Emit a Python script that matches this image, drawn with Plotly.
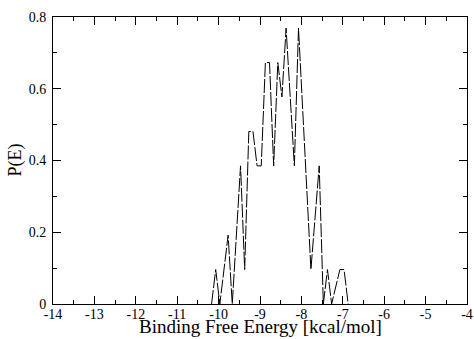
import plotly.graph_objects as go

energy = [-10.17, -10.07, -9.97, -9.77, -9.67, -9.47, -9.37, -9.27, -9.17, -9.07,
          -8.97, -8.87, -8.77, -8.67, -8.57, -8.47, -8.37, -8.17, -8.07, -7.77,
          -7.57, -7.47, -7.37, -7.27, -7.07, -6.97, -6.87]
prob = [0.0, 0.096, 0.0, 0.192, 0.0, 0.385, 0.096, 0.481, 0.481, 0.385,
        0.385, 0.673, 0.673, 0.385, 0.673, 0.577, 0.769, 0.385, 0.769, 0.096,
        0.385, 0.0, 0.096, 0.0, 0.096, 0.096, 0.0]

xticks = [-14, -13, -12, -11, -10, -9, -8, -7, -6, -5, -4]
yticks = [0, 0.2, 0.4, 0.6, 0.8]

fig = go.Figure()
fig.add_trace(go.Scatter(x=energy, y=prob, mode="lines",
                         line=dict(color="black", width=1, dash="14px,2px"),
                         showlegend=False))

fig.update_layout(
    width=474, height=339,
    margin=dict(l=53, r=7, t=17, b=35),
    paper_bgcolor="white", plot_bgcolor="white",
    font=dict(family="Liberation Serif", size=14, color="black"),
    xaxis=dict(range=[-14, -4], tickvals=xticks, ticktext=[str(v) for v in xticks],
               ticks="inside", ticklen=8, tickcolor="black", tickwidth=1,
               showline=True, linecolor="black", linewidth=1, mirror="allticks",
               showgrid=False, zeroline=False, automargin=False,
               ticklabelstandoff=-3,
               minor=dict(ticks="inside", ticklen=4, dtick=0.5, tickcolor="black", showgrid=False),
               tickfont=dict(size=14)),
    yaxis=dict(range=[0, 0.8], tickvals=yticks, ticktext=["0", "0.2", "0.4", "0.6", "0.8"],
               ticks="inside", ticklen=8, tickcolor="black", tickwidth=1,
               showline=True, linecolor="black", linewidth=1, mirror="allticks",
               showgrid=False, zeroline=False, automargin=False,
               ticklabelstandoff=3,
               minor=dict(ticks="inside", ticklen=4, dtick=0.1, tickcolor="black", showgrid=False),
               tickfont=dict(size=14)),
    annotations=[
        dict(text="Binding Free Energy [kcal/mol]", xref="paper", yref="paper",
             x=0.5, y=0, yshift=-35, xanchor="center", yanchor="bottom",
             showarrow=False, font=dict(size=19)),
        dict(text="P(E)", xref="paper", yref="paper", x=0, xshift=-38, y=0.5,
             xanchor="center", yanchor="middle", textangle=-90,
             showarrow=False, font=dict(size=18)),
    ],
)
fig.write_html("out.html", config={"displayModeBar": False},
               post_script="document.body.style.margin='0';document.body.style.padding='0';")
